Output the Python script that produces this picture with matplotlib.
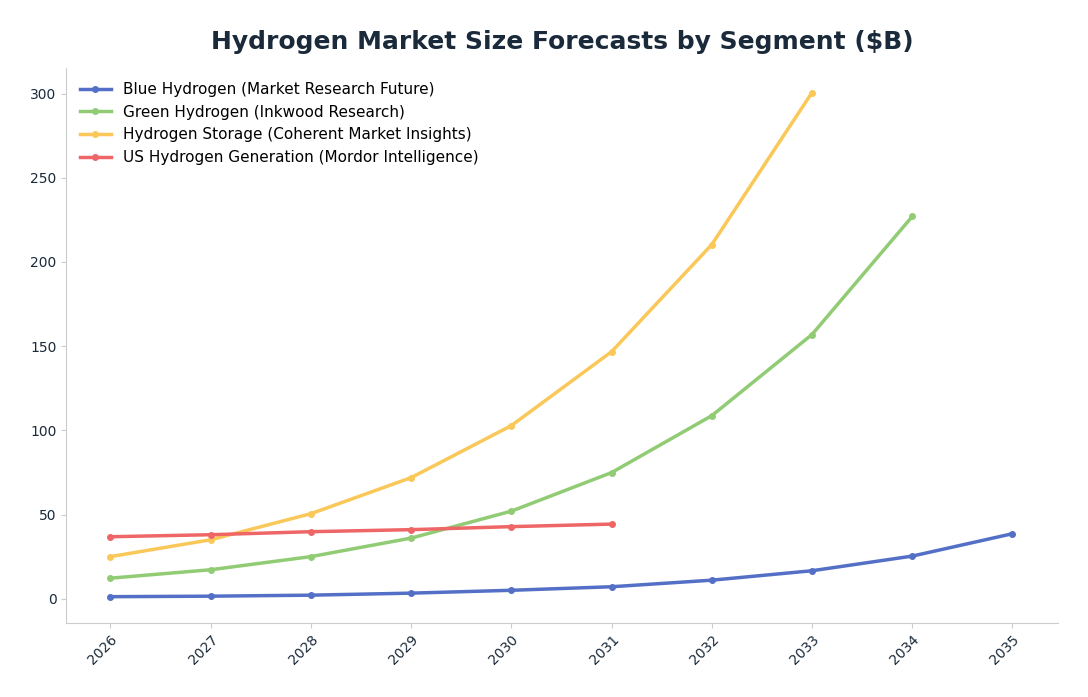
import matplotlib
matplotlib.use("Agg")
import matplotlib.pyplot as plt

years = [2026, 2027, 2028, 2029, 2030, 2031, 2032, 2033, 2034, 2035]
blue = [1.2, 1.5, 2.1, 3.3, 5.0, 7.1, 11.0, 16.6, 25.3, 38.6]
green = [12.2, 17.2, 25.0, 36.0, 52.0, 74.9, 108.7, 156.9, 227.0]
storage = [25.0, 35.0, 50.5, 71.9, 102.8, 146.7, 210.3, 300.6]
us = [36.8, 38.0, 39.8, 41.0, 42.8, 44.3]

series = [
    ("Blue Hydrogen (Market Research Future)", blue, "#5470c6"),
    ("Green Hydrogen (Inkwood Research)", green, "#91cc75"),
    ("Hydrogen Storage (Coherent Market Insights)", storage, "#fac858"),
    ("US Hydrogen Generation (Mordor Intelligence)", us, "#ee6666"),
]

fig, ax = plt.subplots(figsize=(10.88, 6.97), dpi=100)
fig.subplots_adjust(left=0.061, right=0.972, top=0.902, bottom=0.106)
for name, vals, c in series:
    ax.plot(years[:len(vals)], vals, color=c, lw=2.5, marker="o", ms=4, label=name)

ax.set_xticks(years)
ax.set_xticklabels([str(y) for y in years], rotation=45, ha="right", rotation_mode="anchor")
ax.set_yticks([0, 50, 100, 150, 200, 250, 300])
ax.set_ylim(-14.5, 315)
ax.set_xlim(2025.56, 2035.45)
for s in ["top", "right"]:
    ax.spines[s].set_visible(False)
for s in ["left", "bottom"]:
    ax.spines[s].set_color("#cccccc")
ax.tick_params(colors="#1a2a3a", labelsize=10)
ax.tick_params(axis="both", color="#cccccc")
ax.set_title("Hydrogen Market Size Forecasts by Segment ($B)", fontsize=18, fontweight="bold", color="#1a2a3a", pad=14)
ax.legend(loc="upper left", frameon=False, fontsize=11)
fig.savefig("out.png")
